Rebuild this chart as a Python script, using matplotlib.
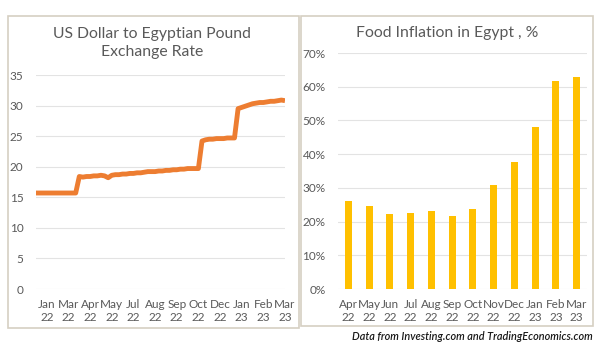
import matplotlib.pyplot as plt
from matplotlib.patches import Rectangle

plt.rcParams['font.family'] = ['Lato', 'DejaVu Sans']

# USD/EGP exchange rate, roughly weekly samples Jan 2022 - Mar 2023
fx_rate = [15.7, 15.7, 15.7, 15.7, 15.7, 15.7, 15.7, 15.7, 15.7, 15.7, 15.7, 15.7,
           18.4, 18.3, 18.4, 18.4, 18.5, 18.5, 18.6, 18.5, 18.2, 18.6, 18.7, 18.7,
           18.8, 18.8, 18.9, 18.9, 19.0, 19.0, 19.1, 19.2, 19.2, 19.2, 19.3, 19.3,
           19.4, 19.4, 19.5, 19.5, 19.6, 19.6, 19.7, 19.7, 19.7, 19.7,
           24.2, 24.4, 24.5, 24.5, 24.6, 24.6, 24.6, 24.7, 24.7, 24.7,
           29.5, 29.7, 29.9, 30.1, 30.3, 30.4, 30.5, 30.5, 30.6, 30.7, 30.7, 30.8, 30.9, 30.8]
fx_labels = ['Jan\n22', 'Mar\n22', 'Apr\n22', 'May\n22', 'Jul\n22', 'Aug\n22',
             'Sep\n22', 'Oct\n22', 'Dec\n22', 'Jan\n23', 'Feb\n23', 'Mar\n23']

# Food inflation in Egypt (%)
months = ['Apr\n22', 'May\n22', 'Jun\n22', 'Jul\n22', 'Aug\n22', 'Sep\n22',
          'Oct\n22', 'Nov\n22', 'Dec\n22', 'Jan\n23', 'Feb\n23', 'Mar\n23']
food_inflation = [26.0, 24.7, 22.3, 22.5, 23.2, 21.6, 23.8, 30.9, 37.6, 48.0, 61.8, 62.9]

grey = '#595959'
fig = plt.figure(figsize=(6, 3.55), dpi=100)

# panel frames
for x0, x1, y1 in [(8, 299, 328), (301, 593, 326)]:
    fig.patches.append(Rectangle((x0 / 600, 1 - y1 / 355), (x1 - x0) / 600, (y1 - 16) / 355,
                                 transform=fig.transFigure, fill=False,
                                 edgecolor='#d6cfc2', linewidth=1.2))

# left: exchange rate
ax1 = fig.add_axes([36 / 600, 66 / 355, 249 / 600, 214 / 355])
ax1.plot(range(len(fx_rate)), fx_rate, color='#ed7d31', linewidth=3.5, solid_capstyle='butt')
ax1.set_xlim(0, len(fx_rate) - 1)
ax1.set_ylim(0, 35)
ax1.set_yticks(range(0, 36, 5))
ax1.set_xticks(range(3, len(fx_rate), 6))
ax1.set_xticklabels(fx_labels)
ax1.grid(axis='y', color='#e3e3e3', linewidth=0.8)
ax1.set_axisbelow(True)
fig.text(152 / 600, 1 - 43 / 355, 'US Dollar to Egyptian Pound\nExchange Rate',
         ha='center', va='center', fontsize=11.3, color=grey, linespacing=1.3)

# right: food inflation
ax2 = fig.add_axes([338 / 600, 66 / 355, 249 / 600, 236 / 355])
ax2.bar(range(len(months)), food_inflation, width=0.34, color='#ffc000')
ax2.set_xlim(-0.5, len(months) - 0.5)
ax2.set_ylim(0, 70)
ax2.set_yticks(range(0, 71, 10))
ax2.set_yticklabels([f'{v}%' for v in range(0, 71, 10)])
ax2.set_xticks(range(len(months)))
ax2.set_xticklabels(months)
ax2.grid(axis='y', color='#e3e3e3', linewidth=0.8)
ax2.set_axisbelow(True)
fig.text(447 / 600, 1 - 33 / 355, 'Food Inflation in Egypt , %',
         ha='center', va='center', fontsize=11.3, color=grey)

for ax in (ax1, ax2):
    for s in ax.spines.values():
        s.set_visible(False)
    ax.tick_params(length=0, labelsize=8.5, labelcolor=grey)
    ax.tick_params(axis='y', pad=9)
    ax.tick_params(axis='x', pad=7)
    for lab in ax.get_xticklabels():
        lab.set_linespacing(1.2)

fig.text(593 / 600, 1 - 337 / 355, 'Data from Investing.com and TradingEconomics.com',
         ha='right', va='center', fontsize=7.8, style='italic', weight='semibold',
         color='#1a1a1a')

fig.savefig('out.png', dpi=100)
